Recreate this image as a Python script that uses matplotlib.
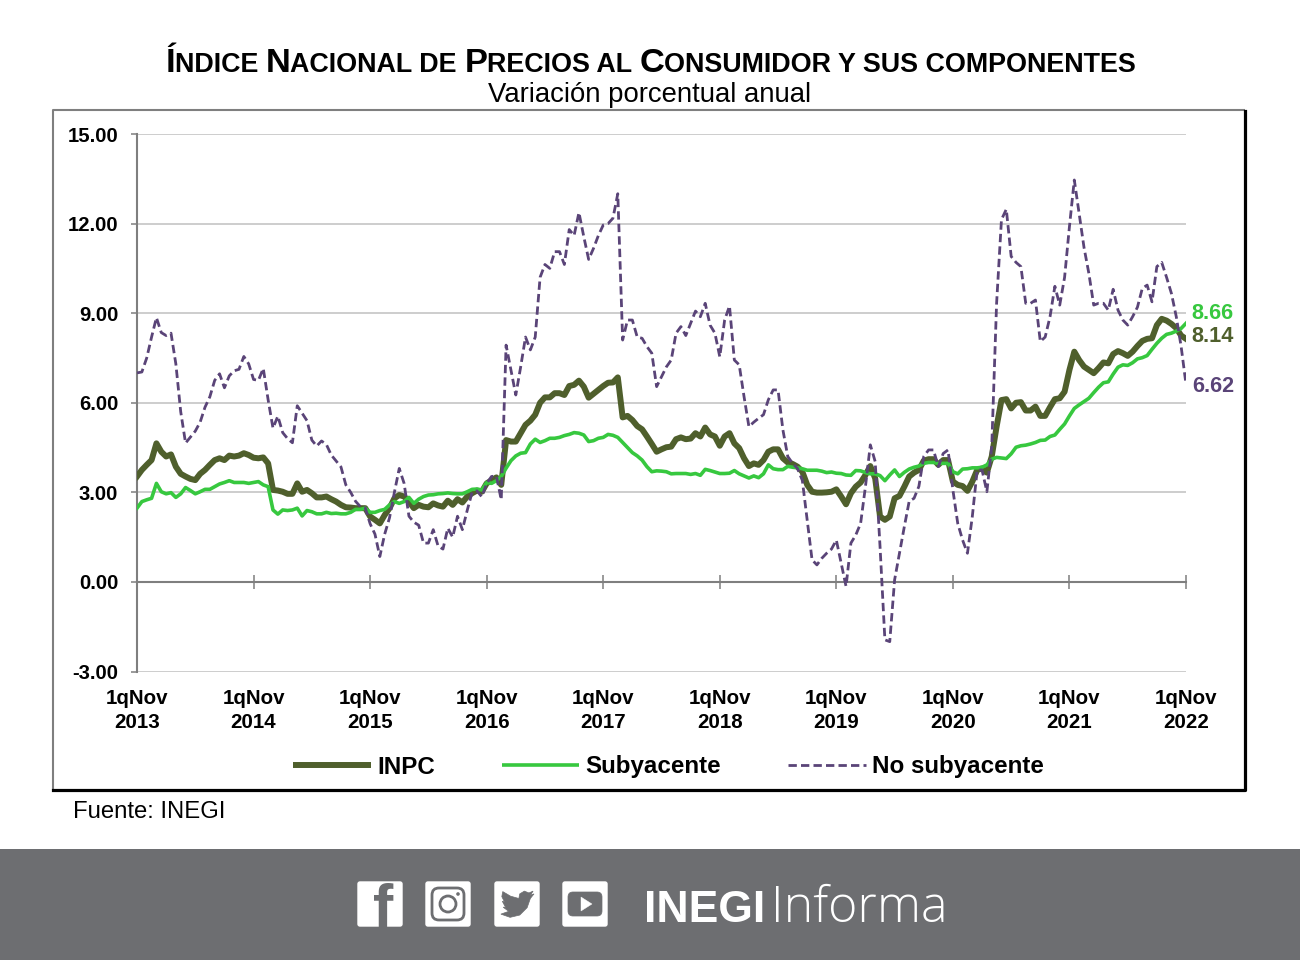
import numpy as np
import matplotlib
matplotlib.use('Agg')
import matplotlib.pyplot as plt
from matplotlib.patches import FancyBboxPatch, Rectangle, Polygon, Circle

# variacion porcentual anual, quincenal, 1qNov 2013 - 1qNov 2022
inpc = [3.53, 3.75, 3.92, 4.08, 4.64, 4.36, 4.20, 4.27, 3.86, 3.62, 3.53, 3.45, 3.41, 3.62, 3.75, 3.92, 4.08, 4.14, 4.08, 4.23, 4.20, 4.23, 4.31, 4.25,
        4.16, 4.14, 4.17, 3.97, 3.08, 3.06, 3.02, 2.95, 2.95, 3.30, 3.02, 3.08, 2.97, 2.83, 2.83, 2.86, 2.77, 2.69, 2.58, 2.50, 2.49, 2.47, 2.47, 2.47,
        2.19, 2.08, 1.96, 2.24, 2.47, 2.80, 2.91, 2.86, 2.69, 2.47, 2.58, 2.52, 2.50, 2.63, 2.56, 2.52, 2.72, 2.58, 2.77, 2.66, 2.86, 2.97, 3.06, 3.02,
        3.30, 3.40, 3.50, 3.25, 4.75, 4.70, 4.70, 4.98, 5.26, 5.40, 5.60, 6.00, 6.18, 6.18, 6.32, 6.32, 6.26, 6.56, 6.60, 6.74, 6.54, 6.17, 6.30, 6.43,
        6.56, 6.67, 6.68, 6.85, 5.51, 5.56, 5.42, 5.22, 5.11, 4.87, 4.62, 4.36, 4.44, 4.51, 4.53, 4.78, 4.84, 4.78, 4.80, 4.98, 4.87, 5.17, 4.94, 4.87,
        4.56, 4.87, 4.98, 4.64, 4.48, 4.14, 3.88, 3.97, 3.92, 4.08, 4.36, 4.44, 4.44, 4.14, 4.00, 3.95, 3.86, 3.69, 3.25, 3.02, 2.99, 2.99, 3.00, 3.02,
        3.10, 2.86, 2.60, 2.97, 3.19, 3.33, 3.58, 3.88, 3.47, 2.19, 2.08, 2.19, 2.80, 2.88, 3.19, 3.53, 3.66, 3.75, 4.06, 4.11, 4.11, 3.92, 4.08, 4.08,
        3.36, 3.25, 3.21, 3.05, 3.36, 3.75, 3.80, 3.66, 4.20, 5.20, 6.09, 6.12, 5.81, 6.00, 6.02, 5.74, 5.74, 5.87, 5.56, 5.56, 5.85, 6.12, 6.15, 6.37,
        7.10, 7.71, 7.43, 7.21, 7.10, 6.99, 7.16, 7.35, 7.32, 7.63, 7.73, 7.66, 7.57, 7.71, 7.90, 8.07, 8.14, 8.16, 8.60, 8.81, 8.75, 8.64, 8.50, 8.25,
        8.14]

subyacente = [2.47, 2.69, 2.75, 2.80, 3.30, 3.02, 2.95, 2.99, 2.83, 2.95, 3.16, 3.06, 2.95, 3.02, 3.10, 3.10, 3.19, 3.28, 3.33, 3.39, 3.33, 3.33, 3.33, 3.30,
              3.33, 3.36, 3.25, 3.19, 2.41, 2.27, 2.41, 2.39, 2.41, 2.47, 2.21, 2.39, 2.35, 2.28, 2.28, 2.33, 2.29, 2.30, 2.28, 2.28, 2.33, 2.43, 2.43, 2.47,
              2.33, 2.33, 2.39, 2.43, 2.58, 2.69, 2.63, 2.69, 2.83, 2.63, 2.77, 2.86, 2.91, 2.92, 2.95, 2.96, 2.98, 2.96, 2.95, 2.95, 3.02, 3.10, 3.11, 3.08,
              3.33, 3.30, 3.39, 3.53, 3.81, 4.06, 4.22, 4.31, 4.33, 4.62, 4.78, 4.67, 4.73, 4.81, 4.81, 4.84, 4.90, 4.94, 5.00, 4.98, 4.92, 4.70, 4.73, 4.81,
              4.84, 4.94, 4.91, 4.84, 4.67, 4.50, 4.33, 4.22, 4.08, 3.86, 3.69, 3.72, 3.71, 3.69, 3.62, 3.63, 3.63, 3.63, 3.60, 3.63, 3.57, 3.77, 3.73, 3.68,
              3.63, 3.63, 3.64, 3.73, 3.62, 3.55, 3.48, 3.55, 3.49, 3.62, 3.92, 3.79, 3.76, 3.76, 3.87, 3.84, 3.82, 3.79, 3.74, 3.74, 3.74, 3.71, 3.66, 3.68,
              3.64, 3.63, 3.58, 3.57, 3.73, 3.72, 3.66, 3.62, 3.62, 3.56, 3.39, 3.58, 3.75, 3.53, 3.67, 3.78, 3.84, 3.88, 3.97, 4.00, 4.00, 3.97, 3.97, 3.97,
              3.69, 3.62, 3.78, 3.79, 3.82, 3.82, 3.84, 3.92, 4.11, 4.17, 4.15, 4.13, 4.29, 4.51, 4.56, 4.58, 4.62, 4.67, 4.74, 4.75, 4.87, 4.92, 5.11, 5.29,
              5.56, 5.81, 5.93, 6.04, 6.15, 6.34, 6.52, 6.67, 6.70, 6.96, 7.19, 7.27, 7.25, 7.34, 7.47, 7.51, 7.58, 7.79, 7.99, 8.16, 8.29, 8.33, 8.40, 8.49,
              8.66]

no_subyacente = [7.00, 7.03, 7.50, 8.20, 8.85, 8.35, 8.25, 8.33, 7.30, 5.70, 4.65, 4.85, 5.05, 5.35, 5.85, 6.20, 6.75, 6.97, 6.50, 6.90, 7.07, 7.12, 7.55, 7.30,
                 6.78, 6.75, 7.15, 6.10, 5.15, 5.55, 5.00, 4.80, 4.66, 5.90, 5.65, 5.40, 4.75, 4.55, 4.72, 4.60, 4.25, 4.05, 3.85, 3.25, 3.00, 2.70, 2.52, 2.48,
                 1.95, 1.60, 0.85, 1.60, 2.15, 3.00, 3.80, 3.30, 2.20, 2.00, 1.90, 1.30, 1.30, 1.75, 1.20, 1.10, 1.80, 1.50, 2.20, 1.75, 2.40, 3.00, 3.05, 2.85,
                 3.30, 3.53, 3.55, 2.75, 7.93, 7.10, 6.26, 7.20, 8.20, 7.77, 8.20, 10.20, 10.63, 10.50, 11.06, 11.06, 10.63, 11.80, 11.60, 12.37, 11.56, 10.80, 11.17, 11.60,
                 11.95, 12.00, 12.18, 13.00, 8.10, 8.77, 8.77, 8.20, 8.16, 7.88, 7.66, 6.54, 6.87, 7.20, 7.43, 8.33, 8.55, 8.25, 8.66, 9.07, 8.88, 9.33, 8.60, 8.33,
                 7.54, 8.77, 9.24, 7.43, 7.27, 6.20, 5.20, 5.35, 5.48, 5.60, 6.10, 6.43, 6.43, 5.09, 4.20, 3.97, 3.80, 3.40, 2.08, 0.74, 0.57, 0.79, 0.96, 1.10,
                 1.40, 0.62, -0.15, 1.30, 1.57, 1.96, 3.20, 4.59, 4.03, 1.18, -1.94, -2.00, 0.07, 0.96, 1.85, 2.70, 2.80, 3.20, 4.20, 4.42, 4.42, 3.86, 4.30, 4.42,
                 3.08, 1.96, 1.40, 0.96, 2.19, 3.75, 3.75, 3.02, 4.53, 9.33, 12.13, 12.48, 10.90, 10.70, 10.56, 9.33, 9.33, 9.44, 8.05, 8.20, 8.88, 9.90, 9.27, 10.20,
                 11.90, 13.46, 12.34, 11.20, 10.33, 9.27, 9.33, 9.33, 9.10, 9.80, 9.10, 8.77, 8.60, 8.88, 9.20, 9.83, 9.94, 9.38, 10.56, 10.70, 10.20, 9.66, 8.88, 7.88,
                 6.62]

quincenas = np.arange(len(inpc))
tick_pos = [0, 24, 48, 72, 96, 120, 144, 168, 192, 216]
tick_labels = ['1qNov\n2013', '1qNov\n2014', '1qNov\n2015', '1qNov\n2016', '1qNov\n2017',
               '1qNov\n2018', '1qNov\n2019', '1qNov\n2020', '1qNov\n2021', '1qNov\n2022']
y_ticks = [-3, 0, 3, 6, 9, 12, 15]

title_runs = [('Í', 1), ('NDICE ', 0), ('N', 1), ('ACIONAL DE ', 0), ('P', 1), ('RECIOS AL ', 0),
              ('C', 1), ('ONSUMIDOR Y SUS COMPONENTES', 0)]

OLIVE = '#4f5f2c'
GREEN = '#37c83f'
PURPLE = '#5a4478'
GRIS = '#6d6e71'

plt.rcParams['font.family'] = ['Liberation Sans', 'DejaVu Sans']

W, H = 1300, 960
fig = plt.figure(figsize=(W / 100, H / 100), dpi=100, facecolor='white')

# capa de fondo en pixeles: marco, banda inferior, iconos
bg = fig.add_axes([0, 0, 1, 1])
bg.set_xlim(0, W)
bg.set_ylim(H, 0)
bg.axis('off')

bg.plot([53, 53, 1245], [790, 110, 110], color='#7f7f7f', lw=1.5, solid_capstyle='butt')
bg.plot([53, 1245, 1245], [790, 790, 111], color='black', lw=2.3, solid_capstyle='projecting')
bg.add_patch(Rectangle((0, 849), W, 111, color=GRIS, lw=0))

for x0 in [357, 425, 494, 562]:
    bg.add_patch(FancyBboxPatch((x0 + 1, 882), 44, 44, boxstyle='round,pad=0,rounding_size=2',
                                fc='white', ec='white', lw=1))

# facebook
bg.text(383, 927, 'f', color=GRIS, fontsize=44, fontweight='bold', ha='center', va='baseline')
# instagram
bg.add_patch(FancyBboxPatch((432, 888), 32, 32, boxstyle='round,pad=0,rounding_size=7', fc='none', ec=GRIS, lw=2))
bg.add_patch(Circle((448, 904), 8, fc='none', ec=GRIS, lw=2))
bg.add_patch(Circle((458, 894), 1.8, fc=GRIS, ec='none'))
# twitter
bird = [(0.87, 0.28), (0.79, 0.31), (0.85, 0.22), (0.76, 0.26), (0.66, 0.22), (0.56, 0.28), (0.54, 0.38),
        (0.36, 0.33), (0.19, 0.23), (0.17, 0.34), (0.23, 0.46), (0.18, 0.44), (0.25, 0.57), (0.20, 0.57),
        (0.32, 0.66), (0.15, 0.72), (0.35, 0.79), (0.56, 0.74), (0.72, 0.58), (0.79, 0.38)]
bg.add_patch(Polygon([(494 + 46 * a, 881 + 46 * b) for a, b in bird], closed=True, fc=GRIS, ec=GRIS, lw=0.5))
# youtube
bg.add_patch(FancyBboxPatch((568, 892), 34, 24, boxstyle='round,pad=0,rounding_size=5', fc=GRIS, ec=GRIS, lw=0.5))
bg.add_patch(Polygon([(581, 897), (581, 911), (592, 904)], closed=True, fc='white', ec='white', lw=0.3))

bg.text(644, 922, 'INEGI', color='white', fontsize=32, fontweight='bold', ha='left', va='baseline')
bg.text(771, 922, 'Informa', color='white', fontsize=36, family=['Open Sans', 'Liberation Sans'],
        fontweight='light', ha='left', va='baseline')

bg.text(650, 102, 'Variación porcentual anual', fontsize=19.8, ha='center', va='baseline')
bg.text(73, 818, 'Fuente: INEGI', fontsize=17.2, ha='left', va='baseline')

# titulo en versalitas, por tramos
renderer = fig.canvas.get_renderer()


def ancho(txt, size):
    a = bg.text(0, 0, txt + '|', fontsize=size, fontweight='bold')
    b = bg.text(0, 0, '|', fontsize=size, fontweight='bold')
    w = a.get_window_extent(renderer).width - b.get_window_extent(renderer).width
    a.remove()
    b.remove()
    return w


sizes = {1: 24.8, 0: 19.4}
total = sum(ancho(t, sizes[k]) for t, k in title_runs)
xt = 650.5 - total / 2
for t, k in title_runs:
    bg.text(xt, 72, t, fontsize=sizes[k], fontweight='bold', ha='left', va='baseline')
    xt += ancho(t, sizes[k])

# grafica
ax = fig.add_axes([137 / W, 1 - 671.5 / H, (1186 - 137) / W, (671.5 - 134) / H])
ax.patch.set_alpha(0)
ax.spines['bottom'].set_position(('data', 0))
ax.set_xlim(0, 216)
ax.set_ylim(-3, 15)

ax.plot(quincenas, inpc, color=OLIVE, lw=4.3, label='INPC', solid_joinstyle='round', zorder=3)
ax.plot(quincenas, subyacente, color=GREEN, lw=2.6, label='Subyacente', zorder=4)
ax.plot(quincenas, no_subyacente, color=PURPLE, lw=2.0, ls=(0, (3, 1.5)), label='No subyacente', zorder=5)

ax.set_yticks(y_ticks)
ax.set_yticklabels(['%.2f' % v for v in y_ticks], fontweight='bold', fontsize=14.6)
ax.set_xticks(tick_pos)
ax.set_xticklabels(tick_labels, fontweight='bold', fontsize=14.8, linespacing=1.34)
ax.grid(axis='y', color='#c0c0c0', lw=1.1)
ax.set_axisbelow(True)

for s in ['top', 'right']:
    ax.spines[s].set_visible(False)
ax.spines['left'].set_color('#7f7f7f')
ax.spines['left'].set_linewidth(1.5)
ax.spines['bottom'].set_color('#7f7f7f')
ax.spines['bottom'].set_linewidth(1.5)
ax.tick_params(axis='y', color='#7f7f7f', length=4.5, width=1.1, pad=9)
ax.tick_params(axis='x', color='#7f7f7f', direction='inout', length=9.5, width=1.1, pad=72)

# etiquetas finales
for serie, col, dy in [(subyacente, GREEN, 7), (inpc, OLIVE, 1.5), (no_subyacente, PURPLE, -1.5)]:
    ax.annotate('%.2f' % serie[-1], xy=(quincenas[-1], serie[-1]), xytext=(4.2, dy), textcoords='offset points',
                color=col, fontsize=15.6, fontweight='bold', ha='left', va='center', annotation_clip=False)

leg = ax.legend(loc='center', bbox_to_anchor=(668.5 / W, 1 - 767 / H), bbox_transform=fig.transFigure, ncol=3, frameon=False,
                prop={'weight': 'bold', 'size': 17.4}, handlelength=3.22, handletextpad=0.26, columnspacing=2.76)
for h in leg.get_lines():
    h.set_solid_capstyle('butt')

fig.savefig('out.png', dpi=100)
